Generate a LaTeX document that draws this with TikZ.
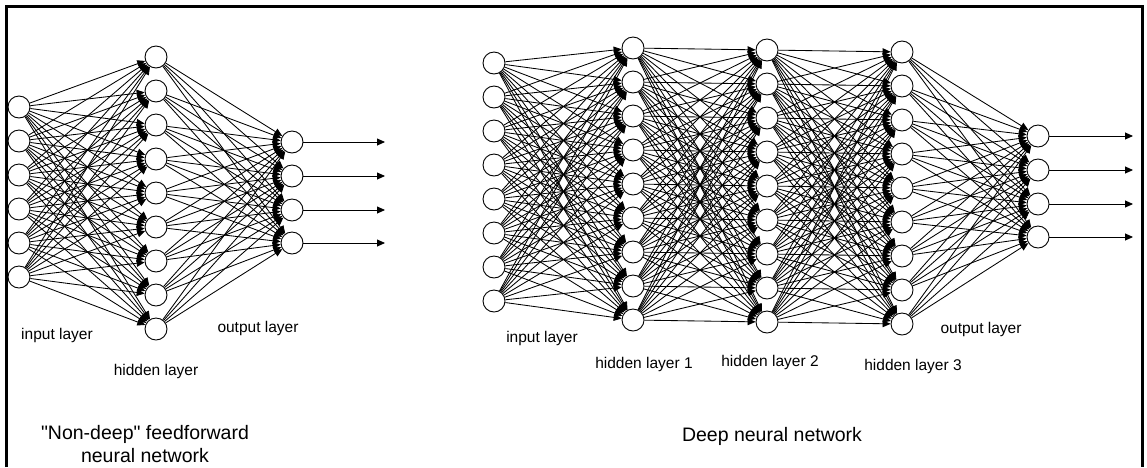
\documentclass[tikz,border=0pt]{standalone}
\usepackage{fontspec}
\newfontfamily\lsans{Liberation Sans}
\usetikzlibrary{arrows.meta}
\begin{document}
\begin{tikzpicture}[x=1pt,y=-1pt,
  neuron/.style={circle,draw,fill=white,minimum size=22pt,inner sep=0pt,line width=0.9pt},
  conn/.style={line width=0.85pt,-{Triangle[length=8pt,width=7pt]}},
  lbl/.style={font=\lsans\fontsize{15.5}{18}\selectfont,inner sep=0pt},
  captext/.style={font=\lsans\fontsize{19.5}{23}\selectfont,align=center,inner sep=0pt},
  frame/.style={line width=2.6pt}]
\useasboundingbox (0,0) rectangle (1147,467);
\draw[frame] (6.5,467) -- (6.5,6.5) -- (1142.5,6.5) -- (1142.5,467);
% ---------- left network ----------
\foreach \i in {1,...,6} \node[neuron] (a\i) at (19,{107+34*(\i-1)}) {};
\foreach \j in {1,...,9} \node[neuron] (b\j) at (156,{57+34*(\j-1)}) {};
\foreach \k/\y in {1/142,2/176,3/210,4/243} {
  \node[neuron] (c\k) at (292,\y) {};
  \coordinate (co\k) at (385,\y);
}
\foreach \i in {1,...,6} \foreach \j in {1,...,9} \draw[conn] (a\i) -- (b\j);
\foreach \j in {1,...,9} \foreach \k in {1,...,4} \draw[conn] (b\j) -- (c\k);
\foreach \k in {1,...,4} \draw[conn] (c\k) -- (co\k);
\node[lbl] (tin) at (57,335) {input layer};
\node[lbl] (thid) at (156,371) {hidden layer};
\node[lbl] (tout) at (258,328) {output layer};
\node[captext] (tcapl) at (145,444) {"Non-deep" feedforward\\neural network};
% ---------- right network ----------
\foreach \i in {1,...,8} \node[neuron] (p\i) at (494,{63+34*(\i-1)}) {};
\foreach \j in {1,...,9} \node[neuron] (q\j) at (633,{48+34*(\j-1)}) {};
\foreach \j in {1,...,9} \node[neuron] (r\j) at (767,{50+34*(\j-1)}) {};
\foreach \j in {1,...,9} \node[neuron] (s\j) at (902,{52+34*(\j-1)}) {};
\foreach \k/\y in {1/136,2/170,3/204,4/237} {
  \node[neuron] (t\k) at (1038,\y) {};
  \coordinate (to\k) at (1133,\y);
}
\foreach \i in {1,...,8} \foreach \j in {1,...,9} \draw[conn] (p\i) -- (q\j);
\foreach \i in {1,...,9} \foreach \j in {1,...,9} \draw[conn] (q\i) -- (r\j);
\foreach \i in {1,...,9} \foreach \j in {1,...,9} \draw[conn] (r\i) -- (s\j);
\foreach \j in {1,...,9} \foreach \k in {1,...,4} \draw[conn] (s\j) -- (t\k);
\foreach \k in {1,...,4} \draw[conn] (t\k) -- (to\k);
\node[lbl] (rin) at (542,338) {input layer};
\node[lbl] (rh1) at (644,364) {hidden layer 1};
\node[lbl] (rh2) at (770,362) {hidden layer 2};
\node[lbl] (rh3) at (913,366) {hidden layer 3};
\node[lbl] (rout) at (981,329) {output layer};
\node[captext] (tcapr) at (772,436) {Deep neural network};
\end{tikzpicture}
\end{document}
